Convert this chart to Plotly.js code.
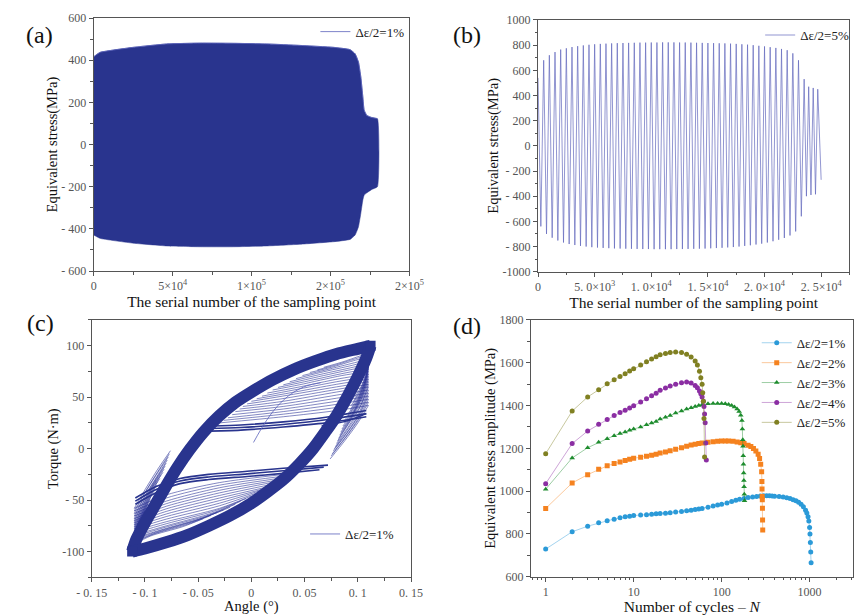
<!DOCTYPE html>
<html><head><meta charset="utf-8">
<script src="https://cdn.plot.ly/plotly-3.0.1.min.js"></script>
<style>html,body{margin:0;padding:0;background:#fff}#chart{width:857px;height:615px}</style>
</head><body><div id="chart"></div>
<script>
// ================= DATA =================
// (a) envelope of the stress band, Δε/2=1%
const aEnvX   = [0, 3990, 25100, 46260, 67380, 88500, 109630, 130760, 151840, 162400, 165590, 167700, 169200, 170470, 171300, 173000, 176170, 179740];
const aUpperY = [416, 437, 461, 477, 481, 480, 477, 470, 461, 450, 430, 391, 320, 225, 163, 138, 128, 122];
const aLowerY = [-429, -445, -468, -481, -485, -485, -481, -473, -461, -450, -429, -390, -326, -263, -240, -229, -213, -200];

// (b) cycle peaks / valleys, Δε/2=5%
const bPeakX = [0,500,1000,1500,2000,2500,3000,3500,4000,4500,5000,5500,6000,6500,7000,7500,8000,8500,9000,9500,10000,10500,11000,11500,12000,12500,13000,13500,14000,14500,15000,15500,16000,16500,17000,17500,18000,18500,19000,19500,20000,20500,21000,21500,22000,22500,23000,23500,23900,24300,24700];
const bPeakY = [540,680,720,745,765,775,785,792,798,803,807,810,812,814,816,817,818,819,820,820,821,821,822,822,822,821,821,820,819,818,817,816,815,814,812,810,807,804,800,795,790,784,778,770,760,735,680,530,470,460,450];
const bValleyX = [250,750,1250,1750,2250,2750,3250,3750,4250,4750,5250,5750,6250,6750,7250,7750,8250,8750,9250,9750,10250,10750,11250,11750,12250,12750,13250,13750,14250,14750,15250,15750,16250,16750,17250,17750,18250,18750,19250,19750,20250,20750,21250,21750,22250,22750,23250,23700,24100,24500,25000];
const bValleyY = [-640,-700,-730,-752,-768,-780,-788,-795,-800,-805,-808,-811,-813,-815,-816,-817,-818,-819,-820,-820,-821,-821,-821,-821,-820,-820,-819,-818,-817,-816,-814,-812,-810,-807,-804,-800,-795,-790,-784,-777,-768,-758,-746,-732,-712,-680,-560,-400,-390,-385,-270];

// (c) torque–angle hysteresis, Δε/2=1%
const cLoadX   = [-0.112,-0.108,-0.100,-0.090,-0.080,-0.070,-0.058,-0.045,-0.030,-0.015,0.000,0.020,0.040,0.060,0.080,0.100,0.112];
const cLoadY   = [-100,-88,-72,-54,-36,-19,-1,16,32,45,55,67,77,85,92,97,100];
const cUnloadX = [0.112,0.108,0.100,0.090,0.080,0.070,0.058,0.045,0.030,0.015,0.000,-0.020,-0.040,-0.060,-0.080,-0.100,-0.112];
const cUnloadY = [100,88,70,50,32,17,0,-15,-30,-42,-53,-65,-75,-84,-91,-97,-100];
const cUpPlatX = [[-0.046,-0.010,0.030,0.070,0.108],[-0.041,-0.010,0.030,0.070,0.108],[-0.036,-0.010,0.030,0.070,0.108]];
const cUpPlatY = [[17,18,21,25,31],[19.5,20.5,23.5,28,34],[22,23,26,30.5,37]];
const cLoPlatX = [[0.072,0.030,-0.004,-0.040,-0.067,-0.090,-0.109],[0.068,0.030,-0.004,-0.040,-0.067,-0.090,-0.109],[0.064,0.030,-0.004,-0.040,-0.067,-0.090,-0.109]];
const cLoPlatY = [[-16,-19,-22,-25,-29,-37,-48],[-18,-21.5,-24.5,-27.5,-31.5,-40,-51],[-20.5,-24,-27,-30,-34,-43,-54]];
const cUpFanX = [[-0.030,0.030,0.080,0.110],[-0.026,0.030,0.080,0.110],[-0.022,0.030,0.080,0.110],[-0.018,0.030,0.080,0.110],[-0.015,0.030,0.080,0.110],[-0.011,0.030,0.080,0.110],[-0.008,0.030,0.080,0.110],[-0.004,0.032,0.080,0.110],[0.000,0.035,0.080,0.110],[0.005,0.038,0.080,0.110],[0.010,0.040,0.080,0.110],[0.015,0.043,0.083,0.110],[0.020,0.045,0.085,0.110],[0.025,0.050,0.088,0.110],[0.030,0.055,0.090,0.110],[0.036,0.060,0.093,0.110],[0.042,0.065,0.095,0.110],[0.048,0.070,0.097,0.110],[0.055,0.075,0.098,0.110],[0.062,0.080,0.100,0.111],[0.068,0.085,0.102,0.111]];
const cUpFanY = [[25,31,37,42],[27.5,33.5,40,45],[30,36,43,48],[33,38.5,46,51],[36,41,49,54],[38.5,43.5,52,57],[41,46,55,60],[43.5,49,57.5,62.5],[46,52,60,65],[48.5,54.5,62.5,67.5],[51,57,65,70],[54,59.5,68,72.5],[57,62,71,75],[59.5,65,73.5,77.5],[62,68,76,80],[65,71,78.5,82.5],[68,74,81,85],[71,76.5,83.5,87],[74,79,86,89],[76.5,81.5,88,91],[79,84,90,93]];
const cRightX = [[0.110,0.100,0.088,0.074],[0.110,0.100,0.088,0.075],[0.110,0.101,0.089,0.076],[0.110,0.101,0.089,0.077],[0.110,0.102,0.090,0.078],[0.110,0.102,0.090,0.079],[0.110,0.102,0.091,0.080],[0.110,0.103,0.091,0.081],[0.110,0.103,0.092,0.082],[0.110,0.103,0.093,0.083],[0.110,0.104,0.094,0.084],[0.110,0.104,0.095,0.085],[0.110,0.105,0.096,0.086],[0.110,0.105,0.097,0.087],[0.110,0.106,0.098,0.088],[0.110,0.106,0.099,0.090],[0.110,0.107,0.100,0.091],[0.111,0.108,0.101,0.093],[0.111,0.108,0.102,0.094],[0.111,0.109,0.103,0.096],[0.111,0.109,0.104,0.097]];
const cRightY = [[42,25,8,-10],[45,27,10,-7],[48,30,12,-5],[51,32,14,-2],[54,35,16,0],[57,37,18,2],[60,40,21,5],[62.5,42.5,23.5,7.5],[65,45,26,10],[67.5,47.5,28.5,13],[70,50,31,16],[72.5,52.5,33.5,19],[75,55,36,22],[77.5,57.5,39,25],[80,60,42,28],[82.5,63,45,31],[85,66,48,34],[87,69,51.5,38],[89,72,55,42],[91,75,58.5,46],[93,78,62,50]];
const cLoFanX = [[0.040,-0.030,-0.080,-0.110],[0.036,-0.030,-0.080,-0.110],[0.032,-0.030,-0.080,-0.110],[0.028,-0.030,-0.080,-0.110],[0.024,-0.030,-0.080,-0.110],[0.020,-0.030,-0.080,-0.110],[0.016,-0.030,-0.080,-0.110],[0.012,-0.030,-0.080,-0.110],[0.008,-0.030,-0.080,-0.110],[0.004,-0.030,-0.080,-0.110],[0.000,-0.030,-0.080,-0.110],[-0.005,-0.033,-0.080,-0.110],[-0.010,-0.035,-0.080,-0.110],[-0.015,-0.040,-0.083,-0.110],[-0.020,-0.045,-0.085,-0.110],[-0.026,-0.050,-0.088,-0.110],[-0.032,-0.055,-0.090,-0.110],[-0.038,-0.060,-0.093,-0.110],[-0.045,-0.065,-0.095,-0.110]];
const cLoFanY = [[-24,-33,-45,-58],[-26,-35.5,-48,-60.5],[-28,-38,-51,-63],[-30,-40.5,-53.5,-65.5],[-32,-43,-56,-68],[-34.5,-45.5,-58.5,-70],[-37,-48,-61,-72],[-39,-50.5,-63.5,-74],[-41,-53,-66,-76],[-43.5,-55.5,-68.5,-78],[-46,-58,-71,-80],[-48.5,-60,-73,-82],[-51,-62,-75,-84],[-54,-64.5,-77,-85.5],[-57,-67,-79,-87],[-59.5,-69,-80.5,-88.5],[-62,-71,-82,-90],[-65,-73.5,-83.5,-91.5],[-68,-76,-85,-93]];
const cLeftX = [[-0.110,-0.100,-0.088,-0.076],[-0.110,-0.100,-0.088,-0.077],[-0.110,-0.101,-0.089,-0.078],[-0.110,-0.101,-0.089,-0.079],[-0.110,-0.102,-0.090,-0.080],[-0.110,-0.102,-0.091,-0.081],[-0.110,-0.103,-0.092,-0.082],[-0.110,-0.103,-0.093,-0.083],[-0.110,-0.104,-0.094,-0.085],[-0.110,-0.104,-0.095,-0.086],[-0.110,-0.105,-0.096,-0.088],[-0.110,-0.105,-0.097,-0.089],[-0.110,-0.106,-0.098,-0.091],[-0.110,-0.106,-0.099,-0.092],[-0.110,-0.107,-0.100,-0.094],[-0.110,-0.107,-0.101,-0.095],[-0.110,-0.108,-0.102,-0.097],[-0.111,-0.108,-0.103,-0.098],[-0.111,-0.109,-0.104,-0.100]];
const cLeftY = [[-58,-40,-20,-2],[-60.5,-42.5,-22.5,-5],[-63,-45,-25,-8],[-65.5,-47.5,-27.5,-11],[-68,-50,-30,-14],[-70,-52.5,-32.5,-17],[-72,-55,-35,-20],[-74,-57.5,-37.5,-23],[-76,-60,-40,-26],[-78,-62.5,-43,-29],[-80,-65,-46,-32],[-82,-67.5,-49,-35.5],[-84,-70,-52,-39],[-85.5,-72,-55,-42.5],[-87,-74,-58,-46],[-88.5,-76,-61,-49.5],[-90,-78,-64,-53],[-91.5,-80,-67,-56.5],[-93,-82,-70,-60]];
const cLinkX = [[0.108,0.090,0.066]];
const cLinkY = [[34,27,22]];
const cInitX = [0.002,0.008,0.014,0.021,0.030,0.040,0.052,0.065];
const cInitY = [6,17,27,37,47,55,61,64];

// (d) equivalent stress amplitude vs cycles
const dLabels = ['Δε/2=1%','Δε/2=2%','Δε/2=3%','Δε/2=4%','Δε/2=5%'];
const dN1 = [1,2,3,4,5,6,7,8,9,10,12,14,16,18,20,23,26,30,35,40,45,50,55,60,70,80,90,100,115,130,145,160,180,200,225,250,275,300,325,350,375,400,450,500,550,600,650,700,750,800,850,900,930,960,980,1000,1010,1020,1030,1040];
const dS1 = [729,810,836,852,861,869,875,880,883,886,888,890,892,894,895,897,899,902,905,908,911,914,916,919,925,930,935,939,945,951,957,962,966,970,973,975,977,978,978,978,977,976,975,973,969,965,960,955,948,939,927,911,898,880,860,830,800,760,715,665];
const dN2 = [1,2,3,4,5,6,7,8,9,10,12,14,16,18,20,23,26,30,35,40,45,50,55,60,70,80,90,100,110,120,135,150,165,180,200,215,230,245,260,270,278,285,287,288,289,290,291,292,293];
const dS2 = [919,1038,1077,1102,1118,1129,1136,1143,1149,1154,1158,1163,1168,1172,1178,1183,1189,1196,1203,1210,1215,1219,1222,1225,1228,1231,1233,1234,1234,1234,1233,1230,1226,1222,1214,1208,1199,1188,1172,1152,1125,1090,1045,1010,975,960,920,865,818];
const dN3 = [1,2,3,4,5,6,7,8,9,10,12,14,16,18,20,23,26,30,35,40,45,50,55,60,70,80,90,100,110,120,130,140,150,158,165,170,172,174,175,176,177,178,179,180,181,182];
const dS3 = [1009,1155,1203,1228,1245,1259,1269,1276,1284,1290,1300,1310,1318,1326,1337,1345,1353,1365,1375,1384,1390,1396,1400,1404,1408,1410,1410,1410,1408,1405,1400,1393,1384,1372,1355,1330,1290,1240,1210,1165,1125,1085,1050,1020,985,955];
const dN4 = [1,2,3,4,5,6,7,8,9,10,12,14,16,18,20,23,26,30,35,40,45,50,53,56,58,60,62,63,64,65,66,67];
const dS4 = [1035,1222,1281,1312,1335,1353,1367,1378,1388,1399,1416,1432,1446,1458,1471,1482,1491,1499,1506,1510,1505,1494,1483,1468,1455,1440,1420,1395,1360,1320,1225,1145];
const dN5 = [1,2,3,4,5,6,7,8,9,10,12,14,16,18,20,23,26,30,35,40,45,50,53,56,58,60,61,62,63,64];
const dS5 = [1175,1374,1440,1474,1502,1521,1536,1549,1561,1572,1590,1605,1618,1628,1637,1643,1648,1650,1648,1640,1627,1608,1590,1560,1530,1500,1460,1420,1340,1160];

// ================= STYLE =================
const SERIF = '"Liberation Serif", "Times New Roman", serif';
const NAVY = '#29348e';
const THIN = 'rgba(42,52,150,0.78)';
const tickFont = {family: SERIF, size: 12, color: '#555'};
const titleFont = {family: SERIF, size: 14.5, color: '#111'};
const xTitleFont = {family: SERIF, size: 15.5, color: '#111'};
const legFont = {family: SERIF, size: 13, color: '#222'};

function ax(extra) {
  return Object.assign({
    showline: true, mirror: true, linecolor: '#555', linewidth: 1,
    ticks: 'outside', ticklen: 4, tickcolor: '#555', tickwidth: 1,
    showgrid: false, zeroline: false, tickfont: tickFont, fixedrange: true
  }, extra);
}

const traces = [];

// ---- (a)
traces.push({
  type: 'scatter', mode: 'lines', xaxis: 'x', yaxis: 'y',
  x: aEnvX.concat(aEnvX.slice().reverse()),
  y: aUpperY.concat(aLowerY.slice().reverse()),
  fill: 'toself', fillcolor: NAVY, line: {color: NAVY, width: 0.5, shape: 'spline', smoothing: 0.4},
  showlegend: false, hoverinfo: 'skip'
});
traces.push({
  type: 'scatter', mode: 'lines', xaxis: 'x', yaxis: 'y',
  x: aEnvX, y: aUpperY, name: 'Δε/2=1%', legend: 'legend',
  line: {color: '#5a62bb', width: 0.8, shape: 'spline', smoothing: 0.4}
});

// ---- (b)
const bX = [], bY = [];
for (let i = 0; i < bPeakX.length; i++) {
  bX.push(bPeakX[i], bValleyX[i]);
  bY.push(bPeakY[i], bValleyY[i]);
}
traces.push({
  type: 'scatter', mode: 'lines', xaxis: 'x2', yaxis: 'y2',
  x: bX, y: bY, name: 'Δε/2=5%', legend: 'legend2',
  line: {color: '#6369bd', width: 0.7}
});

// ---- (c)
function addThin(xs, ys, w, col) {
  for (let i = 0; i < xs.length; i++) {
    traces.push({type: 'scatter', mode: 'lines', xaxis: 'x3', yaxis: 'y3',
      x: xs[i], y: ys[i], line: {color: col, width: w, shape: 'spline', smoothing: 0.8},
      showlegend: false, hoverinfo: 'skip'});
  }
}
addThin(cUpFanX, cUpFanY, 0.75, THIN);
addThin(cRightX, cRightY, 0.75, THIN);
addThin(cLoFanX, cLoFanY, 0.75, THIN);
addThin(cLeftX, cLeftY, 0.75, THIN);
addThin(cUpPlatX, cUpPlatY, 1.6, NAVY);
addThin(cLoPlatX, cLoPlatY, 1.6, NAVY);
addThin(cLinkX, cLinkY, 1.4, NAVY);
[[cLoadX, cLoadY], [cUnloadX, cUnloadY]].forEach(function (arc) {
  traces.push({
    type: 'scatter', mode: 'lines', xaxis: 'x3', yaxis: 'y3',
    x: arc[0], y: arc[1],
    line: {color: NAVY, width: 12, shape: 'spline', smoothing: 0.7},
    showlegend: false, hoverinfo: 'skip'
  });
});
traces.push({
  type: 'scatter', mode: 'markers', xaxis: 'x3', yaxis: 'y3',
  x: [cLoadX[0], cLoadX[cLoadX.length - 1]], y: [cLoadY[0], cLoadY[cLoadY.length - 1]],
  marker: {color: NAVY, size: 10, symbol: 'square'}, showlegend: false, hoverinfo: 'skip'
});
traces.push({
  type: 'scatter', mode: 'lines', xaxis: 'x3', yaxis: 'y3',
  x: cInitX, y: cInitY, name: 'Δε/2=1%', legend: 'legend3',
  line: {color: '#5a62bb', width: 0.8, shape: 'spline'}
});

// ---- (d)
const dN = [dN1, dN2, dN3, dN4, dN5];
const dS = [dS1, dS2, dS3, dS4, dS5];
const dCol = ['#2b9ad8', '#f5821f', '#1e8c2e', '#8b2ea3', '#808022'];
const dLineCol = ['rgba(43,154,216,0.55)', 'rgba(245,130,31,0.55)', 'rgba(30,140,46,0.55)', 'rgba(139,46,163,0.55)', 'rgba(128,128,34,0.55)'];
const dSym = ['circle', 'square', 'triangle-up', 'circle', 'circle'];
for (let k = 0; k < 5; k++) {
  traces.push({
    type: 'scatter', mode: 'lines+markers', xaxis: 'x4', yaxis: 'y4',
    x: dN[k], y: dS[k], name: dLabels[k], legend: 'legend4',
    line: {color: dLineCol[k], width: 0.8},
    marker: {color: dCol[k], symbol: dSym[k], size: 5, line: {width: 0}}
  });
}

// ================= LAYOUT =================
const legBase = {bgcolor: 'rgba(0,0,0,0)', borderwidth: 0, font: legFont, xanchor: 'left', itemwidth: 30};
const panelFont = {family: SERIF, size: 24, color: '#111'};

const layout = {
  width: 857, height: 615,
  margin: {l: 0, r: 0, t: 0, b: 0},
  paper_bgcolor: '#fff', plot_bgcolor: '#fff',
  font: {family: SERIF},
  hovermode: false,
  xaxis: ax({domain: [0.1093, 0.4778], range: [0, 200000],
    tickmode: 'array', tickvals: [0, 50000, 100000, 150000, 200000],
    ticktext: ['0', '5×10<sup>4</sup>', '1×10<sup>5</sup>', '2×10<sup>5</sup>', '2×10<sup>5</sup>'],
    minor: {ticks: 'outside', ticklen: 2.5, dtick: 25000, tick0: 0, tickcolor: '#555'},
    title: {text: 'The serial number of the sampling point', font: xTitleFont, standoff: 3}}),
  yaxis: ax({domain: [0.5593, 0.9707], range: [-600, 600],
    tickmode: 'array', tickvals: [-600, -400, -200, 0, 200, 400, 600],
    ticktext: ['- 600', '- 400', '- 200', '0', '200', '400', '600'],
    minor: {ticks: 'outside', ticklen: 2.5, dtick: 100, tick0: 0, tickcolor: '#555'},
    title: {text: 'Equivalent stress(MPa)', font: titleFont, standoff: 0}}),
  xaxis2: ax({domain: [0.6278, 0.9912], range: [0, 27500], anchor: 'y2',
    tickmode: 'array', tickvals: [0, 5000, 10000, 15000, 20000, 25000],
    ticktext: ['0', '5. 0×10<sup>3</sup>', '1. 0×10<sup>4</sup>', '1. 5×10<sup>4</sup>', '2. 0×10<sup>4</sup>', '2. 5×10<sup>4</sup>'],
    minor: {ticks: 'outside', ticklen: 2.5, dtick: 2500, tick0: 0, tickcolor: '#555'},
    title: {text: 'The serial number of the sampling point', font: xTitleFont, standoff: 3}}),
  yaxis2: ax({domain: [0.5582, 0.9675], range: [-1000, 1000], anchor: 'x2',
    tickmode: 'array', tickvals: [-1000, -800, -600, -400, -200, 0, 200, 400, 600, 800, 1000],
    ticktext: ['-1000', '- 800', '- 600', '- 400', '- 200', '0', '200', '400', '600', '800', '1000'],
    minor: {ticks: 'outside', ticklen: 2.5, dtick: 100, tick0: 0, tickcolor: '#555'},
    title: {text: 'Equivalent stress(MPa)', font: titleFont, standoff: 0}}),
  xaxis3: ax({domain: [0.1070, 0.4796], range: [-0.15, 0.15], anchor: 'y3',
    tickmode: 'array', tickvals: [-0.15, -0.1, -0.05, 0, 0.05, 0.1, 0.15],
    ticktext: ['- 0. 15', '- 0. 1', '- 0. 05', '0', '0. 05', '0. 1', '0. 15'],
    minor: {ticks: 'outside', ticklen: 2.5, dtick: 0.025, tick0: 0, tickcolor: '#555'},
    title: {text: 'Angle (°)', font: titleFont, standoff: 4}}),
  yaxis3: ax({domain: [0.0613, 0.4797], range: [-125, 125], anchor: 'x3',
    tickmode: 'array', tickvals: [-100, -50, 0, 50, 100],
    ticktext: ['-100', '- 50', '0', '50', '100'],
    minor: {ticks: 'outside', ticklen: 2.5, dtick: 25, tick0: 0, tickcolor: '#555'},
    title: {text: 'Torque (N·m)', font: titleFont, standoff: 0}}),
  xaxis4: ax({domain: [0.6196, 0.9950], type: 'log', range: [-0.167, 3.49], anchor: 'y4',
    tickmode: 'array', tickvals: [1, 10, 100, 1000], ticktext: ['1', '10', '100', '1000'],
    minor: {ticks: 'outside', ticklen: 2.5, dtick: 'D1', tickcolor: '#555'},
    title: {text: 'Number of cycles – <i>N</i>', font: xTitleFont, standoff: 2}}),
  yaxis4: ax({domain: [0.0623, 0.4797], range: [600, 1800], anchor: 'x4',
    tickmode: 'array', tickvals: [600, 800, 1000, 1200, 1400, 1600, 1800],
    ticktext: ['600', '800', '1000', '1200', '1400', '1600', '1800'],
    minor: {ticks: 'outside', ticklen: 2.5, dtick: 100, tick0: 0, tickcolor: '#555'},
    title: {text: 'Equivalent stress amplitude (MPa)', font: titleFont, standoff: 0}}),
  legend: Object.assign({}, legBase, {x: 0.368, y: 0.9485, yanchor: 'middle'}),
  legend2: Object.assign({}, legBase, {x: 0.887, y: 0.943, yanchor: 'middle'}),
  legend3: Object.assign({}, legBase, {x: 0.356, y: 0.1317, yanchor: 'middle'}),
  legend4: Object.assign({}, legBase, {x: 0.883, y: 0.467, yanchor: 'top', tracegroupgap: 0}),
  annotations: [
    {text: '(a)', x: 0.028, y: 0.9675, xref: 'paper', yref: 'paper', showarrow: false, font: panelFont},
    {text: '(b)', x: 0.545, y: 0.9675, xref: 'paper', yref: 'paper', showarrow: false, font: panelFont},
    {text: '(c)', x: 0.029, y: 0.4748, xref: 'paper', yref: 'paper', showarrow: false, font: panelFont},
    {text: '(d)', x: 0.545, y: 0.4699, xref: 'paper', yref: 'paper', showarrow: false, font: panelFont}
  ]
};

Plotly.newPlot('chart', traces, layout, {staticPlot: true, displayModeBar: false});
</script></body></html>
